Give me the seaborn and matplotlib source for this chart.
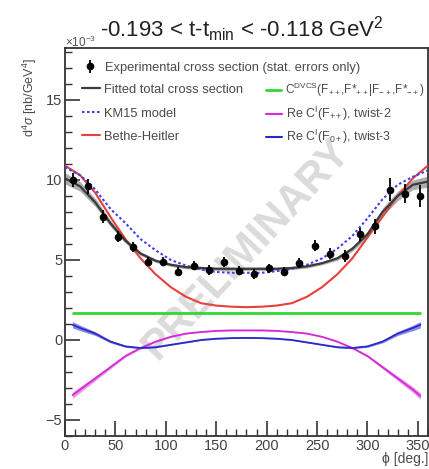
import numpy as np
import pandas as pd
import matplotlib
matplotlib.use("Agg")
import matplotlib.pyplot as plt
import seaborn as sns
from matplotlib.ticker import MultipleLocator
from matplotlib.lines import Line2D

# ---------------- data ----------------
phi_data = [7.5, 22.5, 37.5, 52.5, 67.5, 82.5, 97.5, 112.5, 127.5, 142.5, 157.5, 172.5,
            187.5, 202.5, 217.5, 232.5, 247.5, 262.5, 277.5, 292.5, 307.5, 322.5, 337.5, 352.5]
xsec_data = [10.0, 9.6, 7.7, 6.45, 5.8, 4.9, 4.9, 4.27, 4.65, 4.37, 4.87, 4.34,
             4.12, 4.48, 4.27, 4.83, 5.9, 5.4, 5.25, 6.6, 7.1, 9.4, 9.15, 9.0]
xsec_err = [0.45, 0.45, 0.4, 0.35, 0.3, 0.3, 0.3, 0.3, 0.3, 0.3, 0.3, 0.3,
            0.3, 0.3, 0.3, 0.3, 0.35, 0.35, 0.35, 0.4, 0.45, 0.7, 0.6, 0.7]

phi_curve = [0, 15, 30, 45, 60, 75, 90, 105, 120, 135, 150, 165, 180,
             195, 210, 225, 240, 255, 270, 285, 300, 315, 330, 345, 360]
total_fit = [10.1, 9.6, 8.6, 7.3, 6.2, 5.4, 4.95, 4.7, 4.55, 4.5, 4.45, 4.45, 4.45,
             4.45, 4.45, 4.5, 4.6, 4.8, 5.1, 5.7, 6.6, 8.0, 9.0, 9.7, 9.9]
total_err = [0.35, 0.3, 0.25, 0.2, 0.15, 0.12, 0.1, 0.1, 0.1, 0.1, 0.1, 0.1, 0.1,
             0.1, 0.1, 0.1, 0.1, 0.1, 0.12, 0.15, 0.2, 0.25, 0.3, 0.3, 0.35]
km15 = [10.8, 10.3, 9.4, 8.2, 7.3, 6.3, 5.6, 5.0, 4.65, 4.4, 4.25, 4.2, 4.2,
        4.2, 4.3, 4.45, 4.7, 5.1, 5.7, 6.5, 7.6, 8.8, 9.7, 10.2, 10.6]
bethe_heitler = [10.9, 10.3, 9.2, 7.7, 6.3, 5.1, 4.1, 3.3, 2.7, 2.3, 2.15, 2.08, 2.05,
                 2.08, 2.15, 2.3, 2.7, 3.3, 4.1, 5.1, 6.4, 7.7, 9.0, 10.1, 10.9]

phi_comp = [7.5, 15, 30, 45, 60, 75, 90, 105, 120, 135, 150, 165, 180,
            195, 210, 225, 240, 255, 270, 285, 300, 315, 330, 345, 352.5]
c_dvcs = [1.7] * 25
c_twist2 = [-3.45, -3.1, -2.4, -1.7, -1.0, -0.5, -0.1, 0.2, 0.4, 0.5, 0.57, 0.6, 0.6,
            0.6, 0.57, 0.5, 0.4, 0.2, -0.1, -0.5, -1.0, -1.7, -2.4, -3.1, -3.5]
c_twist2_err = [0.2, 0.18, 0.14, 0.1, 0.07, 0.05, 0.04, 0.03, 0.03, 0.03, 0.03, 0.03, 0.03,
                0.03, 0.03, 0.03, 0.03, 0.03, 0.04, 0.05, 0.07, 0.1, 0.14, 0.18, 0.2]
c_twist3 = [0.95, 0.75, 0.4, -0.1, -0.4, -0.5, -0.45, -0.3, -0.15, 0.0, 0.08, 0.12, 0.13,
            0.12, 0.08, 0.0, -0.15, -0.3, -0.45, -0.5, -0.4, -0.1, 0.4, 0.75, 0.95]
c_twist3_err = [0.2, 0.17, 0.12, 0.08, 0.06, 0.05, 0.04, 0.03, 0.03, 0.03, 0.03, 0.03, 0.03,
                0.03, 0.03, 0.03, 0.03, 0.03, 0.04, 0.05, 0.06, 0.08, 0.12, 0.17, 0.2]

x_ticks = [0, 50, 100, 150, 200, 250, 300, 350]
y_ticks = [-5, 0, 5, 10, 15]
y_ticklabels = ["\u22125", "0", "5", "10", "15"]

# ---------------- style ----------------
sns.set_theme(style="white")
plt.rcParams['font.family'] = ['Liberation Sans', 'DejaVu Sans']
plt.rcParams['mathtext.fontset'] = 'custom'
plt.rcParams['mathtext.rm'] = 'Liberation Sans'
plt.rcParams['mathtext.it'] = 'Liberation Sans:italic'

W, H = 429, 469
fig = plt.figure(figsize=(W / 100, H / 100), dpi=100)
ax = fig.add_axes([0.1515, 0.0704, 0.846, 0.8273])

df_curve = pd.DataFrame({"phi": phi_curve, "total": total_fit, "km15": km15, "bh": bethe_heitler})
df_comp = pd.DataFrame({"phi": phi_comp, "dvcs": c_dvcs, "t2": c_twist2, "t3": c_twist3})

col_total = "#3b3b3b"
col_band = "#9a9a9a"
col_red = "#e8403c"
col_green = "#33d633"
col_mag = "#d62ad6"
col_blue = "#2a2ac8"
col_km = "#3c3cf0"
txt_col = "#4a4a4a"

# bands
tot = np.array(total_fit); te = np.array(total_err)
ax.fill_between(phi_curve, tot - te, tot + te, color=col_band, alpha=0.8, lw=0, zorder=2)
t2 = np.array(c_twist2); t2e = np.array(c_twist2_err)
ax.fill_between(phi_comp, t2 - t2e, t2 + t2e, color="#e27be2", alpha=0.8, lw=0, zorder=2)
t3 = np.array(c_twist3); t3e = np.array(c_twist3_err)
ax.fill_between(phi_comp, t3 - t3e, t3 + t3e, color="#7070e0", alpha=0.8, lw=0, zorder=2)

sns.lineplot(data=df_curve, x="phi", y="bh", ax=ax, color=col_red, lw=1.5, zorder=3)
sns.lineplot(data=df_comp, x="phi", y="dvcs", ax=ax, color=col_green, lw=2.0, zorder=3)
sns.lineplot(data=df_comp, x="phi", y="t2", ax=ax, color=col_mag, lw=1.3, zorder=3)
sns.lineplot(data=df_comp, x="phi", y="t3", ax=ax, color=col_blue, lw=1.3, zorder=3)
sns.lineplot(data=df_curve, x="phi", y="km15", ax=ax, color=col_km, lw=1.5, ls=(0, (1.2, 1.2)), zorder=4)
sns.lineplot(data=df_curve, x="phi", y="total", ax=ax, color=col_total, lw=1.6, zorder=4)

ax.errorbar(phi_data, xsec_data, yerr=xsec_err, fmt="o", color="black", ms=4.5,
            elinewidth=1.3, capsize=0, zorder=6)

# axes
ax.set_xlim(0, 360)
ax.set_ylim(-6, 18.25)
ax.set_xticks(x_ticks)
ax.set_yticks(y_ticks)
ax.set_yticklabels(y_ticklabels)
ax.xaxis.set_minor_locator(MultipleLocator(10))
ax.yaxis.set_minor_locator(MultipleLocator(1))
ax.tick_params(which="major", direction="in", length=11, width=1.2, labelsize=10.5,
               colors="#333333", labelcolor="#444444", bottom=True, left=True, pad=2)
ax.tick_params(which="minor", direction="in", length=5, width=1.0,
               colors="#333333", bottom=True, left=True)
for s in ax.spines.values():
    s.set_color("#333333")
    s.set_linewidth(1.3)
ax.set_xlabel("")
ax.set_ylabel("")

def fx(px):
    return px / W

def fy(py):
    return 1 - py / H

fig.text(fx(428), fy(466), "\u03d5 [deg.]", ha="right", va="bottom", fontsize=10, color=txt_col)
fig.text(fx(30), fy(97), "d$^4\\sigma$ [nb/GeV$^4$]", rotation=90, ha="center", va="center",
         fontsize=9, color=txt_col)
fig.text(fx(65), fy(50), "\u00d710$^{-3}$", ha="left", va="bottom", fontsize=8.5, color="#555555")
fig.text(fx(242), fy(37), "-0.193 < t-t$_{\\mathrm{min}}$ < -0.118 GeV$^2$", ha="center",
         va="baseline", fontsize=16, color="#222222")

# watermark
ax.text(0.5, 0.48, "PRELIMINARY", transform=ax.transAxes, rotation=47, ha="center",
        va="center", fontsize=30, color="#cfcfcf", alpha=0.75, zorder=1, fontweight="bold")

# legend entries, each placed at its own row / column
def entry(handle, label, px, py, hlen, pad, fs):
    lg = fig.legend([handle], [label], loc="center left",
                    bbox_to_anchor=(fx(px), fy(py)), bbox_transform=fig.transFigure,
                    frameon=False, fontsize=fs, handlelength=hlen, handletextpad=pad,
                    borderpad=0, borderaxespad=0, labelcolor=txt_col)
    return lg

entry(ax.errorbar([], [], yerr=[], fmt="o", color="black", ms=4.5, elinewidth=1.3),
      "Experimental cross section (stat. errors only)", 82, 68, 1.2, 0.55, 9.3)

col1 = [(Line2D([], [], color=col_total, lw=1.6), "Fitted total cross section", 90),
        (Line2D([], [], color=col_km, lw=1.5, ls=(0, (1.2, 1.2))), "KM15 model", 114),
        (Line2D([], [], color=col_red, lw=1.5), "Bethe-Heitler", 137)]
col2 = [(Line2D([], [], color=col_green, lw=2.0),
         "C$^{\\mathrm{DVCS}}$(F$_{++}$,F*$_{++}$|F$_{-+}$,F*$_{-+}$)", 90, 8.5),
        (Line2D([], [], color=col_mag, lw=1.5), "Re C$^{\\mathrm{I}}$(F$_{++}$), twist-2", 114, 9.0),
        (Line2D([], [], color=col_blue, lw=1.5), "Re C$^{\\mathrm{I}}$(F$_{0+}$), twist-3", 137, 9.0)]
for h, lab, py in col1:
    entry(h, lab, 82, py, 1.4, 0.3, 9.3)
for h, lab, py, fs in col2:
    entry(h, lab, 266, py, 1.3, 0.3, fs)

fig.savefig("out.png", dpi=100)
